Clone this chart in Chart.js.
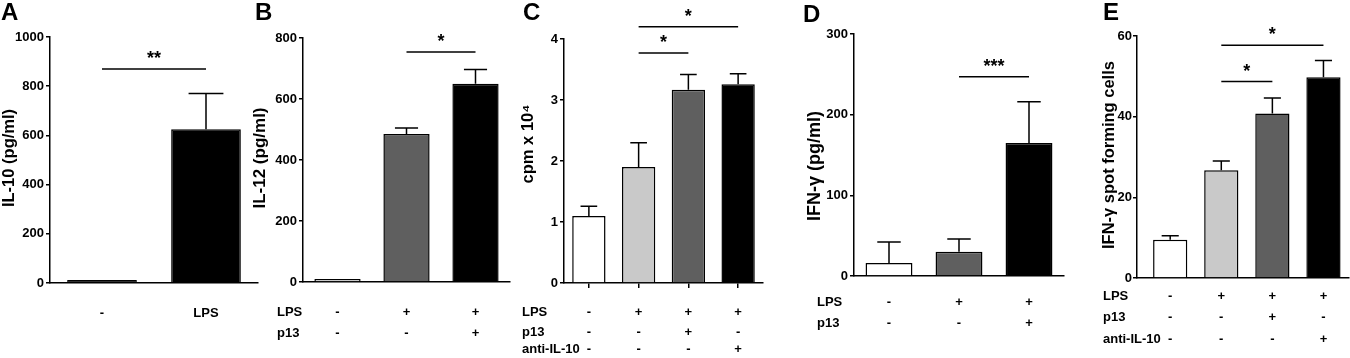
<!DOCTYPE html>
<html>
<head>
<meta charset="utf-8">
<script src="https://cdn.jsdelivr.net/npm/chart.js@4"></script>
<style>
body{margin:0;background:#fff;width:1350px;height:358px;position:relative;overflow:hidden}
canvas{position:absolute;top:0}
</style>
</head>
<body>
<canvas id="cA"></canvas>
<canvas id="cB"></canvas>
<canvas id="cC"></canvas>
<canvas id="cD"></canvas>
<canvas id="cE"></canvas>
<script>
// A - IL-10
const aMeans = [12, 625];
const aErrTop = [null, 770];
const aTicks = [0, 200, 400, 600, 800, 1000];
const aSig = [{from: 1, to: 2, y: 870, text: '**'}];
const aGroups = ['-', 'LPS'];

// B - IL-12
const bMeans = [10, 485, 650];
const bErrTop = [null, 505, 697];
const bTicks = [0, 200, 400, 600, 800];
const bSig = [{from: 2, to: 3, y: 754, text: '*'}];
const bLPS = ['-', '+', '+'];
const bP13 = ['-', '-', '+'];

// C - proliferation
const cMeans = [1.1, 1.9, 3.17, 3.26];
const cErrTop = [1.26, 2.3, 3.42, 3.43];
const cTicks = [0, 1, 2, 3, 4];
const cSig = [{from: 2, to: 3, y: 3.77, text: '*'}, {from: 2, to: 4, y: 4.2, text: '*'}];
const cLPS = ['-', '+', '+', '+'];
const cP13 = ['-', '-', '+', '-'];
const cAnti = ['-', '-', '-', '+'];

// D - IFN-g
const dMeans = [16, 30, 165];
const dErrTop = [42, 46, 216];
const dTicks = [0, 100, 200, 300];
const dSig = [{from: 2, to: 3, y: 247, text: '***'}];
const dLPS = ['-', '+', '+'];
const dP13 = ['-', '-', '+'];

// E - IFN-g spot forming cells
const eMeans = [9.5, 26.7, 40.8, 49.8];
const eErrTop = [10.5, 29, 44.6, 53.9];
const eTicks = [0, 20, 40, 60];
const eSig = [{from: 2, to: 3, y: 48.7, text: '*'}, {from: 2, to: 4, y: 57.7, text: '*'}];
const eLPS = ['-', '+', '+', '+'];
const eP13 = ['-', '-', '+', '-'];
const eAnti = ['-', '-', '-', '+'];

const WHITE = '#ffffff', LIGHT = '#c9c9c9', DARK = '#5f5f5f', BLACK = '#000000';
const FONT = '"Liberation Sans", Arial, Helvetica, sans-serif';
const H = 358;

function makePanel(p) {
  const cv = document.getElementById(p.id);
  cv.width = p.width;
  cv.height = H;
  cv.style.left = p.left + 'px';
  const off = p.left;
  const n = p.means.length;

  const decor = {
    id: 'decor',
    afterDatasetsDraw(chart) {
      const ctx = chart.ctx, xs = chart.scales.x, ys = chart.scales.y;
      ctx.save();
      ctx.strokeStyle = '#000';
      ctx.fillStyle = '#000';
      ctx.lineWidth = 1.5;
      // error bars (mean + SEM)
      chart.getDatasetMeta(0).data.forEach((bar, i) => {
        const top = p.errTop[i];
        if (top == null) return;
        const yt = ys.getPixelForValue(top);
        const w = bar.width / 4;
        ctx.beginPath();
        ctx.moveTo(bar.x, bar.y);
        ctx.lineTo(bar.x, yt);
        ctx.moveTo(bar.x - w, yt);
        ctx.lineTo(bar.x + w, yt);
        ctx.stroke();
      });
      // significance lines
      ctx.font = 'bold 18px ' + FONT;
      ctx.textAlign = 'center';
      ctx.textBaseline = 'alphabetic';
      p.sig.forEach(s => {
        const x1 = xs.getPixelForValue(s.from), x2 = xs.getPixelForValue(s.to);
        const y = ys.getPixelForValue(s.y);
        ctx.beginPath();
        ctx.moveTo(x1, y);
        ctx.lineTo(x2, y);
        ctx.stroke();
        ctx.fillText(s.text, (x1 + x2) / 2, y - 5);
      });
      ctx.restore();
    },
    afterDraw(chart) {
      const ctx = chart.ctx, xs = chart.scales.x;
      ctx.save();
      ctx.fillStyle = '#000';
      // treatment table under the axis
      ctx.font = 'bold 13px ' + FONT;
      ctx.textBaseline = 'middle';
      p.rows.forEach((r, k) => {
        const y = p.rowY[k];
        if (r.name) {
          ctx.textAlign = 'left';
          ctx.fillText(r.name, p.rowX - off, y);
        }
        ctx.textAlign = 'center';
        r.signs.forEach((s, i) => ctx.fillText(s, xs.getPixelForValue(i + 1), y));
      });
      // panel letter
      ctx.font = 'bold 24px ' + FONT;
      ctx.textAlign = 'left';
      ctx.textBaseline = 'alphabetic';
      ctx.fillText(p.letter, p.letterX - off, p.letterY);
      // y title
      ctx.font = 'bold ' + p.titleSize + 'px ' + FONT;
      ctx.translate(p.titleX - off, p.titleY);
      ctx.rotate(-Math.PI / 2);
      ctx.textAlign = 'center';
      ctx.textBaseline = 'middle';
      ctx.fillText(p.title, 0, 0);
      ctx.restore();
    }
  };

  return new Chart(cv, {
    type: 'bar',
    data: {
      datasets: [{
        data: p.means.map((v, i) => ({x: i + 1, y: v})),
        backgroundColor: p.colors,
        borderColor: '#000',
        borderWidth: 1.5,
        categoryPercentage: 1,
        barPercentage: 0.67
      }]
    },
    options: {
      responsive: false,
      animation: false,
      devicePixelRatio: 1,
      layout: {padding: {left: 0, top: p.top, bottom: 0, right: p.left + p.width - p.axisRight}},
      scales: {
        x: {
          type: 'linear',
          min: p.xMin ?? 0.5,
          max: p.xMax ?? n + 0.5,
          offset: false,
          afterBuildTicks: s => { s.ticks = p.means.map((v, i) => ({value: i + 1})); },
          afterFit: s => { s.height = H - p.bottom; },
          ticks: {display: false},
          grid: {display: !!p.xTicks, offset: false, drawOnChartArea: false, drawTicks: true, tickLength: 5, color: '#000', lineWidth: 1.5},
          border: {color: '#000', width: 1.5}
        },
        y: {
          min: 0,
          max: p.ticks[p.ticks.length - 1],
          afterBuildTicks: s => { s.ticks = p.ticks.map(v => ({value: v})); },
          afterFit: s => { s.width = p.axisX - p.left; },
          ticks: {color: '#000', padding: p.tickPad ?? 2, font: {size: 13, weight: 'bold', family: FONT}, callback: v => String(v)},
          grid: {drawOnChartArea: false, drawTicks: true, tickLength: 4, color: '#000', lineWidth: 1.5},
          border: {color: '#000', width: 1.5}
        }
      },
      plugins: {legend: {display: false}, tooltip: {enabled: false}}
    },
    plugins: [decor]
  });
}

makePanel({
  id: 'cA', left: 0, width: 262, axisX: 50, axisRight: 258, top: 37, bottom: 283,
  means: aMeans, errTop: aErrTop, ticks: aTicks, sig: aSig, colors: [BLACK, BLACK],
  rows: [{name: '', signs: aGroups}], rowY: [313], rowX: 0,
  letter: 'A', letterX: 1, letterY: 20,
  title: 'IL-10 (pg/ml)', titleSize: 16.5, titleX: 9, titleY: 158
});

makePanel({
  id: 'cB', left: 250, width: 262, axisX: 303, axisRight: 510, top: 38, bottom: 282,
  means: bMeans, errTop: bErrTop, ticks: bTicks, sig: bSig, colors: [LIGHT, DARK, BLACK],
  rows: [{name: 'LPS', signs: bLPS}, {name: 'p13', signs: bP13}], rowY: [312, 333], rowX: 277,
  letter: 'B', letterX: 255, letterY: 20,
  title: 'IL-12 (pg/ml)', titleSize: 17, titleX: 260, titleY: 158
});

makePanel({
  id: 'cC', left: 512, width: 255, axisX: 564, axisRight: 763, top: 39, bottom: 283, xTicks: true,
  means: cMeans, errTop: cErrTop, ticks: cTicks, sig: cSig, colors: [WHITE, LIGHT, DARK, BLACK],
  rows: [{name: 'LPS', signs: cLPS}, {name: 'p13', signs: cP13}, {name: 'anti-IL-10', signs: cAnti}],
  rowY: [312, 332, 349], rowX: 522,
  letter: 'C', letterX: 523, letterY: 20,
  title: 'cpm x 10⁴', titleSize: 16.5, titleX: 528, titleY: 144
});

makePanel({
  id: 'cD', left: 795, width: 272, axisX: 854, axisRight: 1064, top: 34, bottom: 276,
  means: dMeans, errTop: dErrTop, ticks: dTicks, sig: dSig, colors: [WHITE, DARK, BLACK],
  rows: [{name: 'LPS', signs: dLPS}, {name: 'p13', signs: dP13}], rowY: [302, 323], rowX: 817,
  letter: 'D', letterX: 803, letterY: 22,
  title: 'IFN-γ (pg/ml)', titleSize: 18, titleX: 815, titleY: 166
});

makePanel({
  id: 'cE', left: 1095, width: 255, axisX: 1137, axisRight: 1349, top: 36, bottom: 278, tickPad: 1,
  xMin: 0.35, xMax: 4.5,
  means: eMeans, errTop: eErrTop, ticks: eTicks, sig: eSig, colors: [WHITE, LIGHT, DARK, BLACK],
  rows: [{name: 'LPS', signs: eLPS}, {name: 'p13', signs: eP13}, {name: 'anti-IL-10', signs: eAnti}],
  rowY: [296, 317, 339], rowX: 1103,
  letter: 'E', letterX: 1103, letterY: 20,
  title: 'IFN-γ spot forming cells', titleSize: 16.5, titleX: 1109, titleY: 155
});
</script>
</body>
</html>
